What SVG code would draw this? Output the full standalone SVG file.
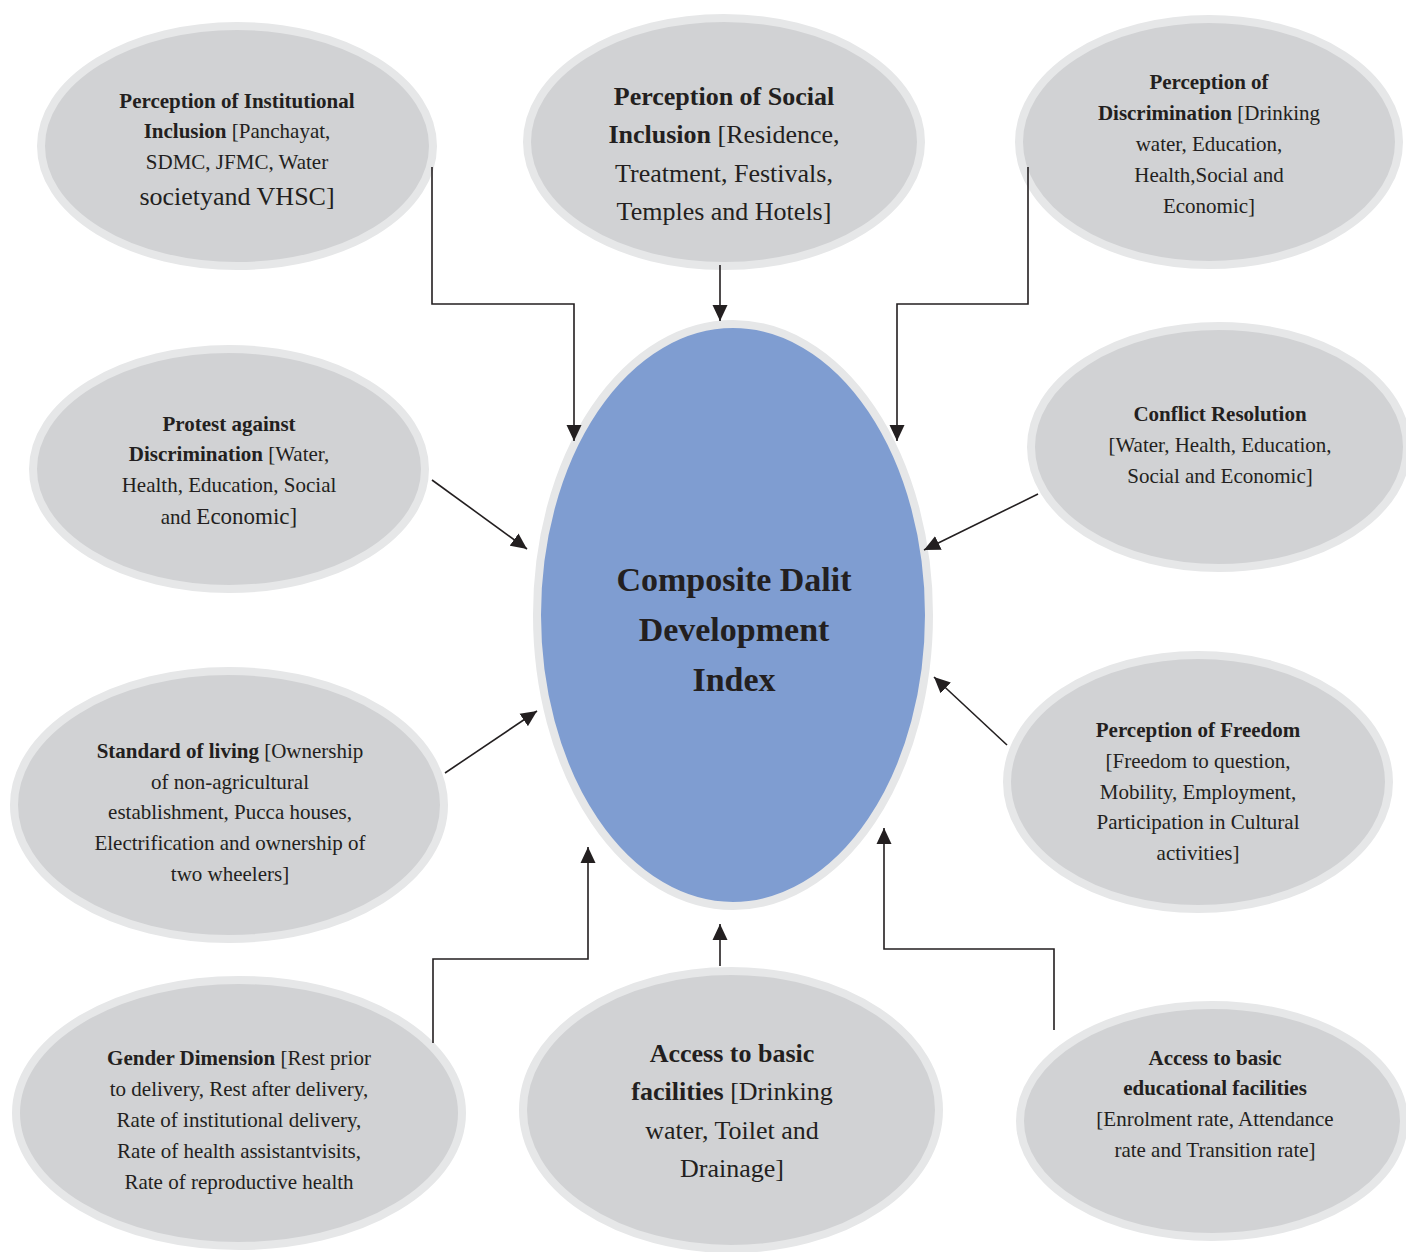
<svg xmlns="http://www.w3.org/2000/svg" width="1406" height="1252" viewBox="0 0 1406 1252">
<defs>
<style>
.node ellipse{fill:#d1d2d4;stroke:#e6e7e8;stroke-width:8}
.center ellipse{fill:#7f9dd1;stroke:#e6e7e8;stroke-width:8}
text{font-family:"Liberation Serif","Times New Roman",serif;fill:#231f20;text-anchor:middle;font-size:21px}
.b{font-weight:bold}
.big{font-size:26px}
.title{font-size:34px;font-weight:bold}
.conn path{fill:none;stroke:#231f20;stroke-width:1.6}
</style>
<marker id="ah" markerUnits="userSpaceOnUse" viewBox="0 0 16 16" refX="16" refY="8" markerWidth="16" markerHeight="16" orient="auto">
<path d="M0,0.5 L16,8 L0,15.5 z" fill="#231f20"/>
</marker>
</defs>
<rect width="1406" height="1252" fill="#ffffff"/>

<g id="center" class="center">
<ellipse cx="733" cy="615" rx="196" ry="291"/>
<text class="title" x="734" y="591">Composite Dalit</text>
<text class="title" x="734" y="641">Development</text>
<text class="title" x="734" y="691">Index</text>
</g>

<g id="institutional" class="node">
<ellipse cx="237" cy="146" rx="196" ry="120"/>
<text x="237" y="108" class="b">Perception of Institutional</text>
<text x="237" y="138"><tspan class="b">Inclusion</tspan> [Panchayat,</text>
<text x="237" y="169">SDMC, JFMC, Water</text>
<text x="237" y="205" class="big">societyand VHSC]</text>
</g>

<g id="social" class="node">
<ellipse cx="724" cy="142" rx="197" ry="124"/>
<text x="724" y="105" class="big b">Perception of Social</text>
<text x="724" y="143" class="big"><tspan class="b">Inclusion</tspan> [Residence,</text>
<text x="724" y="182" class="big">Treatment, Festivals,</text>
<text x="724" y="220" class="big">Temples and Hotels]</text>
</g>

<g id="discrimination" class="node">
<ellipse cx="1209" cy="142" rx="190" ry="123"/>
<text x="1209" y="89" class="b">Perception of</text>
<text x="1209" y="120"><tspan class="b">Discrimination</tspan> [Drinking</text>
<text x="1209" y="151">water, Education,</text>
<text x="1209" y="182">Health,Social and</text>
<text x="1209" y="213">Economic]</text>
</g>

<g id="protest" class="node">
<ellipse cx="229" cy="469" rx="196" ry="120"/>
<text x="229" y="431" class="b">Protest against</text>
<text x="229" y="461"><tspan class="b">Discrimination</tspan> [Water,</text>
<text x="229" y="492">Health, Education, Social</text>
<text x="229" y="524">and <tspan font-size="23">Economic]</tspan></text>
</g>

<g id="conflict" class="node">
<ellipse cx="1219" cy="447" rx="188" ry="121"/>
<text x="1220" y="421" class="b">Conflict Resolution</text>
<text x="1220" y="452">[Water, Health, Education,</text>
<text x="1220" y="483">Social and Economic]</text>
</g>

<g id="living" class="node">
<ellipse cx="229" cy="805" rx="215" ry="134"/>
<text x="230" y="758"><tspan class="b">Standard of living</tspan> [Ownership</text>
<text x="230" y="789">of non-agricultural</text>
<text x="230" y="819">establishment, Pucca houses,</text>
<text x="230" y="850">Electrification and ownership of</text>
<text x="230" y="881">two wheelers]</text>
</g>

<g id="freedom" class="node">
<ellipse cx="1198" cy="782" rx="191" ry="127"/>
<text x="1198" y="737" class="b">Perception of Freedom</text>
<text x="1198" y="768">[Freedom to question,</text>
<text x="1198" y="799">Mobility, Employment,</text>
<text x="1198" y="829">Participation in Cultural</text>
<text x="1198" y="860">activities]</text>
</g>

<g id="gender" class="node">
<ellipse cx="239" cy="1113" rx="223" ry="133"/>
<text x="239" y="1065"><tspan class="b">Gender Dimension</tspan> [Rest prior</text>
<text x="239" y="1096">to delivery, Rest after delivery,</text>
<text x="239" y="1127">Rate of institutional delivery,</text>
<text x="239" y="1158">Rate of health assistantvisits,</text>
<text x="239" y="1189">Rate of reproductive health</text>
</g>

<g id="basic" class="node">
<ellipse cx="731" cy="1110" rx="208" ry="139"/>
<text x="732" y="1062" class="big b">Access to basic</text>
<text x="732" y="1100" class="big"><tspan class="b">facilities</tspan> [Drinking</text>
<text x="732" y="1139" class="big">water, Toilet and</text>
<text x="732" y="1177" class="big">Drainage]</text>
</g>

<g id="educational" class="node">
<ellipse cx="1212" cy="1121" rx="192" ry="116"/>
<text x="1215" y="1065" class="b">Access to basic</text>
<text x="1215" y="1095" class="b">educational facilities</text>
<text x="1215" y="1126">[Enrolment rate, Attendance</text>
<text x="1215" y="1157">rate and Transition rate]</text>
</g>

<g id="connectors" class="conn">
<path d="M432,167 V304 H574 V441" marker-end="url(#ah)"/>
<path d="M720,265 V321" marker-end="url(#ah)"/>
<path d="M1028,167 V304 H897 V441" marker-end="url(#ah)"/>
<path d="M432,480 L527,549" marker-end="url(#ah)"/>
<path d="M1038,494 L924,550" marker-end="url(#ah)"/>
<path d="M445,773 L537,711" marker-end="url(#ah)"/>
<path d="M1007,745 L934,677" marker-end="url(#ah)"/>
<path d="M433,1043 V959 H588 V847" marker-end="url(#ah)"/>
<path d="M720,966 V924" marker-end="url(#ah)"/>
<path d="M1054,1030 V949 H884 V828" marker-end="url(#ah)"/>
</g>
</svg>
